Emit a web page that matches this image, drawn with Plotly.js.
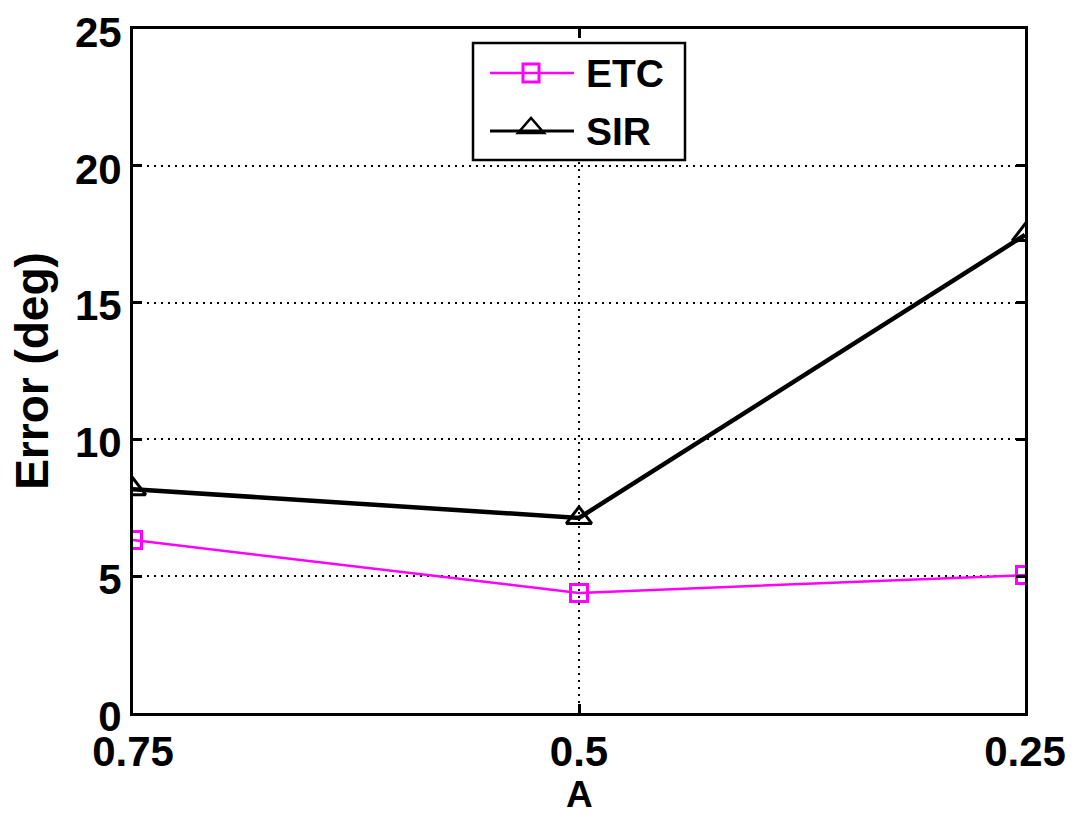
<!DOCTYPE html>
<html><head><meta charset="utf-8">
<script src="https://cdn.plot.ly/plotly-3.0.1.min.js"></script>
<style>body{margin:0;background:#fff}#c{width:1076px;height:815px}</style>
</head><body><div id="c"></div>
<script>
const xVals = [0.75, 0.5, 0.25];
const xLabels = ['0.75', '0.5', '0.25'];
const etc = [6.32, 4.39, 5.04];
const sir = [8.18, 7.13, 17.47];
const yTicks = [0, 5, 10, 15, 20, 25];
const seriesNames = ['ETC', 'SIR'];
const xTitle = 'A';
const yTitle = 'Error (deg)';

const FF = 'Liberation Sans, Arial, sans-serif';
const MAG = '#ff00ff';
const traces = [
  {x: xVals, y: etc, name: seriesNames[0], mode: 'lines+markers', type: 'scatter',
   line: {color: MAG, width: 2.5},
   marker: {symbol: 'square-open', size: 17, color: MAG, line: {width: 3, color: MAG}}},
  {x: xVals, y: sir, name: seriesNames[1], mode: 'lines+markers', type: 'scatter',
   line: {color: '#000', width: 4.5},
   marker: {symbol: 'triangle-up-open', size: 22, color: '#000', line: {width: 3, color: '#000'}}}
];

// plot-area geometry helpers for the hand-built legend (paper coords)
const L = 133, R = 1025, T = 29, B = 713;
const px = v => (v - L) / (R - L);
const py = v => (B - v) / (B - T);

const shapes = [
  {type: 'rect', xref: 'paper', yref: 'paper', x0: px(473), x1: px(685), y0: py(160), y1: py(43),
   line: {color: '#000', width: 2.5}, fillcolor: '#fff', layer: 'above'},
  {type: 'line', xref: 'paper', yref: 'paper', x0: px(490), x1: px(574), y0: py(73), y1: py(73),
   line: {color: MAG, width: 2.5}, layer: 'above'},
  {type: 'rect', xref: 'paper', yref: 'paper', x0: px(523), x1: px(539), y0: py(82), y1: py(64),
   line: {color: MAG, width: 3}, fillcolor: 'rgba(0,0,0,0)', layer: 'above'},
  {type: 'line', xref: 'paper', yref: 'paper', x0: px(490), x1: px(574), y0: py(131), y1: py(131),
   line: {color: '#000', width: 3}, layer: 'above'},
  {type: 'path', xref: 'paper', yref: 'paper',
   path: `M ${px(518)} ${py(133)} L ${px(544)} ${py(133)} L ${px(531)} ${py(118)} Z`,
   line: {color: '#000', width: 2.5}, fillcolor: 'rgba(0,0,0,0)', layer: 'above'}
];
const annotations = [
  {xref: 'paper', yref: 'paper', x: px(584), y: py(74), text: seriesNames[0], showarrow: false,
   xanchor: 'left', yanchor: 'middle', font: {family: FF, size: 39, color: '#000', weight: 'bold'}},
  {xref: 'paper', yref: 'paper', x: px(584), y: py(132), text: seriesNames[1], showarrow: false,
   xanchor: 'left', yanchor: 'middle', font: {family: FF, size: 39, color: '#000', weight: 'bold'}},
  {xref: 'paper', yref: 'paper', x: 0.5, y: py(794), text: xTitle, showarrow: false,
   xanchor: 'center', yanchor: 'middle', borderpad: 0,
   font: {family: FF, size: 37, color: '#000', weight: 'bold'}}
];

const axisCommon = {
  ticks: 'inside', ticklen: 9, tickwidth: 2.5, tickcolor: '#000',
  showline: true, linewidth: 3, linecolor: '#000', mirror: 'allticks',
  showgrid: true, gridcolor: '#000', griddash: '2px,5px', gridwidth: 1.5,
  zeroline: false,
  tickfont: {family: FF, size: 42, color: '#000', weight: 'bold'}
};
const layout = {
  width: 1076, height: 815,
  margin: {l: L, r: 1076 - R, t: T, b: 815 - B},
  paper_bgcolor: '#fff', plot_bgcolor: '#fff',
  font: {family: FF, color: '#000'},
  showlegend: false,
  shapes: shapes,
  annotations: annotations,
  xaxis: Object.assign({}, axisCommon, {range: [0.75, 0.25], tickvals: xVals, ticktext: xLabels}),
  yaxis: Object.assign({}, axisCommon, {range: [0, 25], tickvals: yTicks, ticklabelshift: 3,
    title: {text: yTitle, standoff: 12, font: {family: FF, size: 46, color: '#000', weight: 'bold'}}})
};
Plotly.newPlot('c', traces, layout, {displayModeBar: false});
</script></body></html>
